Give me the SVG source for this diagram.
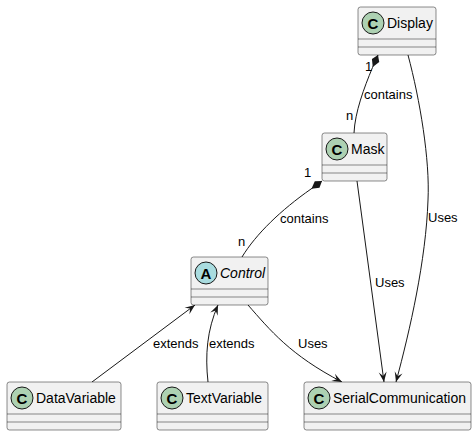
<svg xmlns="http://www.w3.org/2000/svg" width="476" height="436" viewBox="0 0 476 436">
<style>
.box{fill:#F1F1F1;stroke:#181818;stroke-width:0.5}
.sep{stroke:#181818;stroke-width:0.5}
.ci{fill:#ADD1B2;stroke:#181818;stroke-width:1}
.ca{fill:#A9DCDF;stroke:#181818;stroke-width:1}
.ic{font-family:"Liberation Sans",Arial,sans-serif;font-size:15px;font-weight:bold;fill:#000;text-anchor:middle}
.nm{font-family:"Liberation Sans",Arial,sans-serif;font-size:14px;fill:#000}
.lb{font-family:"Liberation Sans",Arial,sans-serif;font-size:13px;fill:#000}
.e{fill:none;stroke:#181818;stroke-width:1}
</style>
<defs>
<marker id="arr" markerUnits="userSpaceOnUse" markerWidth="12" markerHeight="10" refX="10" refY="4" orient="auto" overflow="visible">
<path d="M0,0 L10,4 L0,8 L4,4 Z" fill="#181818"/>
</marker>
<marker id="dia" markerUnits="userSpaceOnUse" markerWidth="14" markerHeight="10" refX="0" refY="4" orient="auto" overflow="visible">
<path d="M0,4 L6,0 L13,4 L6,8 Z" fill="#181818"/>
</marker>
</defs>
<g id="edges">
<path class="e" d="M378,55 L372.5,67.5 C364,88 355,112 354,133" marker-start="url(#dia)"/>
<path class="e" d="M408,55 C420,100 430,160 428,200 C426,260 410,330 396,382" marker-end="url(#arr)"/>
<path class="e" d="M357,181 L384,382" marker-end="url(#arr)"/>
<path class="e" d="M322,181 L311,189 C281,210 256,234 242,257" marker-start="url(#dia)"/>
<path class="e" d="M248,305 C270,330 290,355 342,382" marker-end="url(#arr)"/>
<path class="e" d="M92,382 L195,305" marker-end="url(#arr)"/>
<path class="e" d="M208,382 C205,355 207,330 218,305" marker-end="url(#arr)"/>
<text class="lb" x="365" y="71">1</text>
<text class="lb" x="346" y="120">n</text>
<text class="lb" x="364" y="99">contains</text>
<text class="lb" x="428" y="222">Uses</text>
<text class="lb" x="304" y="177">1</text>
<text class="lb" x="238" y="246">n</text>
<text class="lb" x="280" y="223">contains</text>
<text class="lb" x="375" y="287">Uses</text>
<text class="lb" x="298" y="348">Uses</text>
<text class="lb" x="153" y="348">extends</text>
<text class="lb" x="209" y="348">extends</text>
</g>
<g id="Display">
<rect class="box" x="358" y="7" width="78" height="48" rx="2.5"/>
<line class="sep" x1="358" y1="39" x2="436" y2="39"/>
<line class="sep" x1="358" y1="47" x2="436" y2="47"/>
<circle class="ci" cx="373" cy="23" r="11"/>
<text class="ic" x="373" y="28.5">C</text>
<text class="nm" x="387" y="28">Display</text>
</g>
<g id="Mask">
<rect class="box" x="322" y="133" width="65" height="48" rx="2.5"/>
<line class="sep" x1="322" y1="165" x2="387" y2="165"/>
<line class="sep" x1="322" y1="173" x2="387" y2="173"/>
<circle class="ci" cx="337" cy="149" r="11"/>
<text class="ic" x="337" y="154.5">C</text>
<text class="nm" x="351" y="154">Mask</text>
</g>
<g id="Control">
<rect class="box" x="191" y="257" width="77" height="48" rx="2.5"/>
<line class="sep" x1="191" y1="289" x2="268" y2="289"/>
<line class="sep" x1="191" y1="297" x2="268" y2="297"/>
<circle class="ca" cx="206" cy="273" r="11"/>
<text class="ic" x="206" y="278.5">A</text>
<text class="nm" x="220" y="278" font-style="italic">Control</text>
</g>
<g id="DataVariable">
<rect class="box" x="7" y="382" width="114" height="48" rx="2.5"/>
<line class="sep" x1="7" y1="414" x2="121" y2="414"/>
<line class="sep" x1="7" y1="422" x2="121" y2="422"/>
<circle class="ci" cx="22" cy="398" r="11"/>
<text class="ic" x="22" y="403.5">C</text>
<text class="nm" x="36" y="403">DataVariable</text>
</g>
<g id="TextVariable">
<rect class="box" x="157" y="382" width="111" height="48" rx="2.5"/>
<line class="sep" x1="157" y1="414" x2="268" y2="414"/>
<line class="sep" x1="157" y1="422" x2="268" y2="422"/>
<circle class="ci" cx="172" cy="398" r="11"/>
<text class="ic" x="172" y="403.5">C</text>
<text class="nm" x="186" y="403">TextVariable</text>
</g>
<g id="SerialCommunication">
<rect class="box" x="304" y="382" width="167" height="48" rx="2.5"/>
<line class="sep" x1="304" y1="414" x2="471" y2="414"/>
<line class="sep" x1="304" y1="422" x2="471" y2="422"/>
<circle class="ci" cx="319" cy="398" r="11"/>
<text class="ic" x="319" y="403.5">C</text>
<text class="nm" x="333" y="403">SerialCommunication</text>
</g>
</svg>
